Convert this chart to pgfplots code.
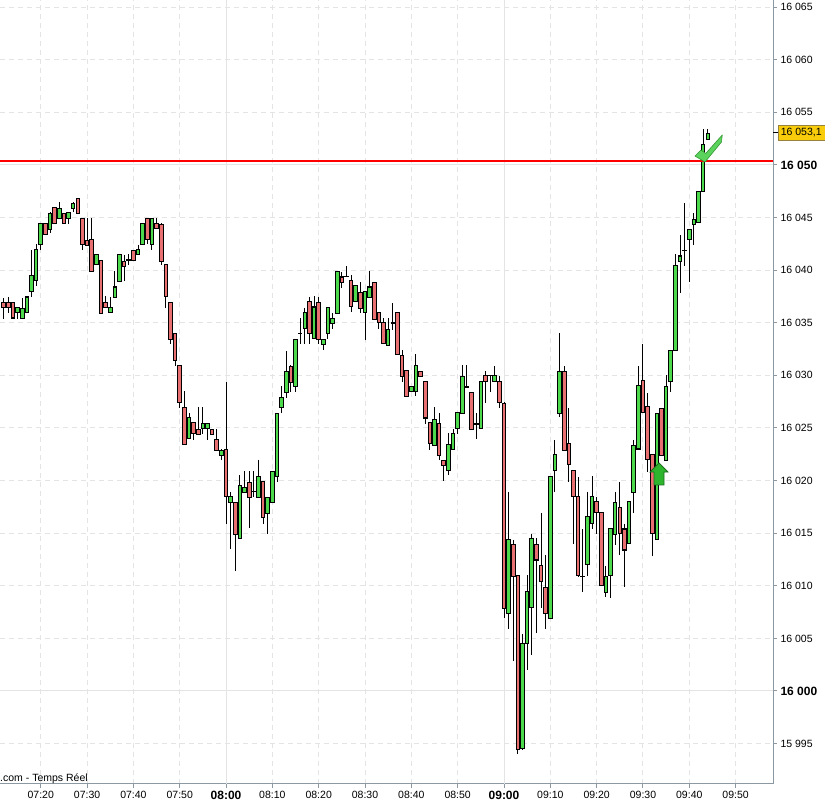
\documentclass[border=0pt]{standalone}
\usepackage{pgfplots}
\pgfplotsset{compat=1.18}
\usepackage{pgfplotstable}
\usepackage{fontspec}
\setmainfont{Liberation Sans}
\definecolor{cgreen}{RGB}{76,217,76}
\definecolor{cred}{RGB}{232,112,112}
\definecolor{gridc}{RGB}{228,228,228}
\definecolor{axisc}{RGB}{140,152,162}
\definecolor{tagfill}{RGB}{248,204,10}
\definecolor{tagdraw}{RGB}{150,130,60}
\definecolor{arrowfill}{RGB}{45,181,45}
\definecolor{arrowdraw}{RGB}{30,110,30}
\definecolor{checkfill}{RGB}{92,211,92}
\definecolor{checkdraw}{RGB}{50,150,50}
% t = minutes after 07:00, o h l c
\pgfplotstableread{
t o h l c
12 16037 16037.5 16035.5 16036.5
13 16037 16037.5 16036 16036.5
14 16037 16037 16035.5 16035.5
15 16036 16036.5 16035.5 16036.5
16 16035.5 16037.5 16035.5 16036.5
17 16036 16037.5 16036 16037.5
18 16038 16042 16037.5 16039.5
19 16039 16042.5 16038.5 16042
20 16042.5 16044.5 16042 16044.5
21 16044.5 16044.5 16043.5 16043.5
22 16044 16045.5 16043.5 16045.5
23 16046 16046 16044.5 16044.5
24 16045 16046.5 16045 16046
25 16045.5 16045.5 16044.5 16044.5
26 16045 16045.5 16044.5 16045.5
27 16046 16046.5 16045.5 16046.5
28 16047 16047 16045.5 16045.5
29 16045 16045 16042 16042.5
30 16043 16045 16042.5 16042.5
31 16043 16045 16040 16040
32 16040.5 16041.5 16040.5 16041.5
33 16041 16041 16036 16036
34 16037 16037.5 16036.5 16036.5
35 16036 16037.5 16036 16036.5
36 16037.5 16040 16037.5 16038.5
37 16039 16041.5 16039 16041.5
38 16041 16041.5 16039 16040.5
39 16041 16041.5 16040.5 16041
40 16042 16042 16041 16041
41 16041.5 16042.5 16041.5 16042
42 16042.5 16044.5 16042.5 16044.5
43 16045 16045 16042.5 16043
44 16042.5 16045 16042 16045
45 16044.5 16045 16044 16044
46 16044.5 16044.5 16040.5 16041
47 16040.5 16040.5 16036.5 16037.5
48 16037 16037 16033 16033.5
49 16034 16034 16031 16031.5
50 16031 16031 16027 16027.5
51 16027 16028.5 16023.5 16023.5
52 16024 16026.5 16024 16026
53 16025.5 16025.5 16024 16024.5
54 16025 16027 16024.5 16024.5
55 16025 16027 16024.5 16025.5
56 16025 16025.5 16024 16025.5
57 16025 16025 16024.5 16024.5
58 16024 16025 16023 16023
59 16022.5 16023 16022 16023
60 16023 16029.5 16016 16018.5
61 16018 16019 16013.5 16018.5
62 16018 16018 16011.5 16015
63 16014.5 16020.5 16014.5 16019.5
64 16019 16021 16019 16019.5
65 16020 16021 16015.5 16018.5
66 16019 16021 16018.5 16019
67 16018.5 16022 16018.5 16020.5
68 16020 16020 16016 16016.5
69 16017 16018.5 16015 16018.5
70 16018 16021 16018 16021
71 16020.5 16026.5 16020 16026.5
72 16027 16029 16026.5 16028
73 16028.5 16032.5 16028 16030.5
74 16031 16031 16028.5 16029.5
75 16029 16033.5 16028.5 16033.5
76 16034 16035.5 16033 16034
77 16034.5 16036.5 16033 16036
78 16037 16037.5 16033 16034
79 16033.5 16037.5 16033.5 16036.5
80 16037 16037.5 16033 16033.5
81 16033 16033.5 16032.5 16033.5
82 16034 16036.5 16033.5 16036.5
83 16035 16036 16034.5 16035.5
84 16036 16040 16036 16040
85 16039.5 16040 16038.5 16039
86 16039.5 16040.5 16039.5 16039.5
87 16039 16039.5 16036 16036.5
88 16037 16038.5 16037 16038.5
89 16038 16039 16036 16036.5
90 16036 16038 16033.5 16038
91 16037.5 16040 16037.5 16038.5
92 16039 16039 16035.5 16035.5
93 16036 16036 16034.5 16035
94 16035 16035.5 16033 16033
95 16033 16035.5 16033 16034.5
96 16035 16037 16034.5 16035
97 16036 16036 16032 16032
98 16032 16032.5 16029.5 16030
99 16030.5 16030.5 16028 16028
100 16028.5 16029 16028.5 16029
101 16028.5 16032 16028 16031
102 16030.5 16030.5 16030 16030
103 16029.5 16029.5 16025.5 16026
104 16025.5 16025.5 16023 16023.5
105 16023.5 16027 16023.5 16026
106 16025.5 16026.5 16022 16022.5
107 16022 16022 16020 16021.5
108 16021 16024.5 16020.5 16023.5
109 16023 16025 16023 16024.5
110 16025 16026.5 16024.5 16026.5
111 16026.5 16031 16026.5 16030
112 16029 16031 16029 16029
113 16028.5 16028.5 16025 16025
114 16025.5 16026.5 16024 16025.5
115 16025 16029.5 16025 16029.5
116 16030 16030.5 16027.5 16029.5
117 16030 16030 16028.5 16030
118 16029.5 16031 16029.5 16030
119 16029.5 16030 16027 16027.5
120 16027.5 16027.5 16007 16008
121 16007.5 16019 16006 16014.5
122 16014 16014.5 16003 16011
123 16011 16011 15994 15994.5
124 15994.5 16005.5 15994.5 16004.5
125 16004.5 16011 16002 16009.5
126 16008 16015 16003.5 16014.5
127 16014 16014.5 16005.5 16012.5
128 16012 16017 16008 16010.5
129 16010 16013 16006 16007.5
130 16007 16020.5 16007 16020.5
131 16021 16024 16019 16022.5
132 16026.5 16034 16026 16030.5
133 16030.5 16031 16023 16023
134 16023.5 16027 16020 16021.5
135 16021 16021 16014 16018.5
136 16018.5 16020.5 16011 16011
137 16011 16015.5 16009.5 16011
138 16012 16019 16011 16016.5
139 16016 16020.5 16015.5 16018.5
140 16018 16018.5 16015 16017
141 16017 16017 16010 16010
142 16009.5 16012 16009 16011
143 16011 16015.5 16009 16015.5
144 16015 16019 16014 16018
145 16017.5 16020 16013 16015
146 16015.5 16016 16010 16013.5
147 16014 16018 16014 16018
148 16019 16024 16017 16023.5
149 16023 16031 16023 16029
150 16029.5 16033 16026.5 16026.5
151 16027 16028.5 16021 16022
152 16022.5 16022.5 16013 16015
153 16014.5 16026.5 16014.5 16026.5
154 16027 16027 16022.5 16022.5
155 16022 16030 16022 16029
156 16029.5 16032.5 16028.5 16032.5
157 16032.5 16041.5 16032.5 16040.5
158 16041 16043.5 16038 16041.5
159 16042 16046.5 16040.5 16042
160 16043 16044 16039 16044
161 16044.5 16045.5 16042.5 16045
162 16044.5 16047.5 16044.5 16047.5
163 16047.5 16053.5 16047.5 16052
164 16052.5 16053.5 16052.5 16053
}\candles
\pgfplotsset{candle/.style={only marks, mark=*, mark size=0.1pt,
  mark options={draw=none, fill=none, draw opacity=0, fill opacity=0}, forget plot,
  error bars/y dir=both, error bars/y explicit, error bars/error mark=none}}
\begin{document}
\begin{tikzpicture}[x=1pt,y=1pt]
\path[use as bounding box] (0,0) rectangle (825,802);
\begin{axis}[
  at={(0pt,18pt)}, anchor=south west,
  scale only axis, width=773pt, height=784pt,
  xmin=11.2, xmax=178.07, ymin=15991.16, ymax=16065.68,
  axis x line*=bottom, axis y line*=right,
  axis line style={axisc, line width=1pt},
  tick align=outside, major tick length=4pt,
  tick style={axisc, line width=1pt},
  grid=major,
  major grid style={gridc, line width=1pt, dash pattern=on 5pt off 4pt},
  xtick={20,30,40,50,70,80,90,100,110,130,140,150,160,170},
  xticklabels={07:20,07:30,07:40,07:50,08:10,08:20,08:30,08:40,08:50,09:10,09:20,09:30,09:40,09:50},
  extra x ticks={60,120},
  extra x tick labels={08:00,09:00},
  extra x tick style={major grid style={gridc, solid, line width=1pt},
    tick label style={font=\fontsize{12}{12}\selectfont\bfseries}},
  ytick={15995,16005,16010,16015,16020,16025,16030,16035,16040,16045,16055,16060,16065},
  extra y ticks={16000,16050},
  extra y tick style={major grid style={gridc, solid, line width=1pt},
    tick label style={font=\fontsize{12}{12}\selectfont\bfseries}},
  scaled y ticks=false,
  /pgf/number format/.cd, 1000 sep={\ }, assume math mode=true,
  /pgfplots/.cd,
  tick label style={font=\fontsize{10.5}{12}\selectfont, black},
  clip=true,
]
% wicks
\addplot[candle, error bars/error bar style={line width=1pt, black}]
  table[x=t, y expr={(\thisrow{h}+\thisrow{l})/2},
        y error expr={(\thisrow{h}-\thisrow{l})/2}] {\candles};
% body outlines
\addplot[candle, error bars/error bar style={line width=4.6pt, black}]
  table[x=t, y expr={(\thisrow{o}+\thisrow{c})/2},
        y error expr={abs(\thisrow{c}-\thisrow{o})/2+0.05}] {\candles};
% green bodies
\addplot[candle, x filter/.expression={\thisrow{c}>\thisrow{o} ? x : nan},
  error bars/error bar style={line width=2.6pt, cgreen}]
  table[x=t, y expr={(\thisrow{o}+\thisrow{c})/2},
        y error expr={abs(\thisrow{c}-\thisrow{o})/2-0.05}] {\candles};
% red bodies
\addplot[candle, x filter/.expression={\thisrow{o}>\thisrow{c} ? x : nan},
  error bars/error bar style={line width=2.6pt, cred}]
  table[x=t, y expr={(\thisrow{o}+\thisrow{c})/2},
        y error expr={abs(\thisrow{c}-\thisrow{o})/2-0.05}] {\candles};
% level line
\addplot[red, line width=2pt, forget plot] coordinates {(11.2,16050.4) (178.07,16050.4)};
% annotations
\draw[fill=arrowfill, draw=arrowdraw, line width=0.8pt]
  (axis cs:153.46,16021.67) -- (axis cs:155.40,16020.81) -- (axis cs:154.54,16020.81)
  -- (axis cs:154.54,16019.58) -- (axis cs:152.38,16019.58) -- (axis cs:152.38,16020.81)
  -- (axis cs:151.52,16020.81) -- cycle;
\draw[fill=checkfill, draw=checkdraw, line width=0.6pt, line join=round]
  (axis cs:161.23,16050.85) -- (axis cs:162.52,16051.42) -- (axis cs:163.54,16051.09)
  -- (axis cs:167.12,16052.85) -- (axis cs:166.95,16052.18)
  -- (axis cs:163.39,16050.28) -- cycle;
\end{axis}
\node[anchor=base west, font=\fontsize{10.5}{12}\selectfont, inner sep=0pt] at (0,20.5) {.com - Temps Réel};
\draw[black, line width=1pt] (773,669) -- (777.5,669);
\node[draw=tagdraw, fill=tagfill, anchor=west, minimum width=47pt, minimum height=15pt,
  inner sep=1pt, font=\fontsize{10.5}{12}\selectfont] at (777.5,669) {16 053,1};
\end{tikzpicture}
\end{document}
